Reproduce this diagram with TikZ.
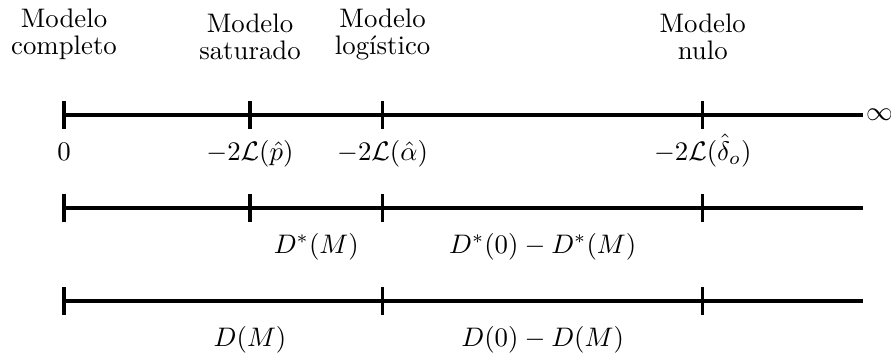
\documentclass[tikz,border=0pt]{standalone}
\usepackage{amsmath}
\usepackage{tikz}
\usetikzlibrary{positioning,calc}
\tikzset{
  eje/.style={line width=1.2pt},
  marca/.style={line width=1.2pt},
  modelo/.style={align=center, anchor=south, font=\fontsize{10}{10}\selectfont},
  valor/.style={anchor=base},
}

\begin{document}
\begin{tikzpicture}
\useasboundingbox (-0.84,-3.19) rectangle (10.85,1.51);
% recta de -2L
\coordinate (a0) at (0,0);
\coordinate (a1) at (2.44,0);
\coordinate (a2) at (4.18,0);
\coordinate (a3) at (8.38,0);
\node[anchor=west, inner sep=1pt] (inf) at (10.48,0) {$\infty$};
\draw[eje] (a0) -- (inf.west);
\foreach \i in {0,...,3} \draw[marca] ($(a\i)+(0,0.18)$) -- ($(a\i)-(0,0.18)$);
\node[modelo] (mcom) at (0,0.6) {Modelo\\completo};
\node[modelo] (msat) at (2.44,0.6) {Modelo\\saturado};
\node[modelo] (mlog) at (4.18,0.6) {Modelo\\log\'istico};
\node[modelo] (mnul) at (8.38,0.6) {Modelo\\nulo};
\node[valor] (v0) at (0,-0.59) {$0$};
\node[valor] (v1) at (2.44,-0.59) {$-2\mathcal{L}(\hat{p})$};
\node[valor] (v2) at (4.18,-0.59) {$-2\mathcal{L}(\hat{\alpha})$};
\node[valor] (v3) at (8.38,-0.59) {$-2\mathcal{L}(\hat{\delta}_o)$};
% recta de D*
\coordinate (b0) at (0,-1.22);
\coordinate (b1) at (2.44,-1.22);
\coordinate (b2) at (4.18,-1.22);
\coordinate (b3) at (8.38,-1.22);
\coordinate (b4) at (10.48,-1.22);
\draw[eje] (b0) -- (b4);
\foreach \i in {0,...,3} \draw[marca] ($(b\i)+(0,0.18)$) -- ($(b\i)-(0,0.18)$);
\node[valor] (ds1) at (3.31,-1.81) {$D^*(M)$};
\node[valor] (ds2) at (6.28,-1.81) {$D^*(0)-D^*(M)$};
% recta de D
\coordinate (c0) at (0,-2.44);
\coordinate (c2) at (4.18,-2.44);
\coordinate (c3) at (8.38,-2.44);
\coordinate (c4) at (10.48,-2.44);
\draw[eje] (c0) -- (c4);
\foreach \i in {0,2,3} \draw[marca] ($(c\i)+(0,0.18)$) -- ($(c\i)-(0,0.18)$);
\node[valor] (d1) at (2.44,-3.03) {$D(M)$};
\node[valor] (d2) at (6.28,-3.03) {$D(0)-D(M)$};
\end{tikzpicture}
\end{document}
